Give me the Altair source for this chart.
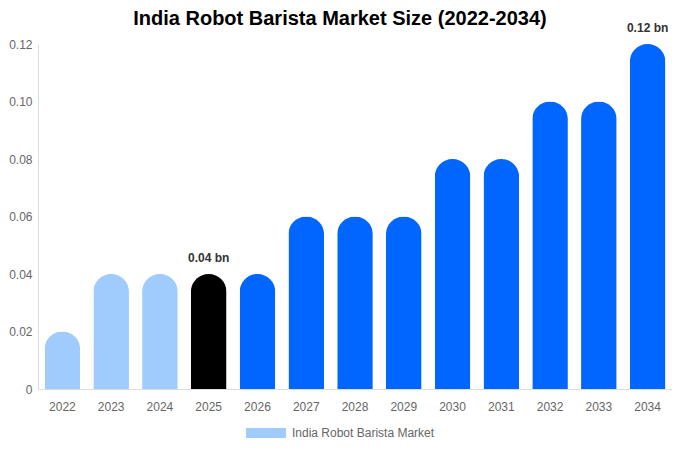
import altair as alt
import pandas as pd

years = [2022, 2023, 2024, 2025, 2026, 2027, 2028, 2029, 2030, 2031, 2032, 2033, 2034]
values = [0.02, 0.04, 0.04, 0.04, 0.04, 0.06, 0.06, 0.06, 0.08, 0.08, 0.10, 0.10, 0.12]
y_ticks = [0, 0.02, 0.04, 0.06, 0.08, 0.10, 0.12]
highlight_year = 2025
labeled_years = [2025, 2034]
series_name = "India Robot Barista Market"
title_text = "India Robot Barista Market Size (2022-2034)"

LIGHT = "#a0cbfd"
BLUE = "#0066ff"
DARK = "#000000"
FONT = "Liberation Sans"

df = pd.DataFrame({"year": years, "value": values})
df["series"] = series_name

x = alt.X("year:O", title=None,
          scale=alt.Scale(paddingInner=0.27, paddingOuter=0.135),
          axis=alt.Axis(labelAngle=0, ticks=False, domainColor="#dddddd",
                        labelColor="#666666", labelFontSize=12, labelPadding=12,
                        labelFont=FONT))
y = alt.Y("value:Q", title=None,
          scale=alt.Scale(domain=[0, 0.12], nice=False),
          axis=alt.Axis(values=y_ticks, ticks=False, grid=False, domainColor="#dddddd",
                        labelColor="#666666", labelFontSize=12, labelPadding=6,
                        labelFont=FONT,
                        labelExpr="datum.value == 0 ? '0' : format(datum.value, '.2f')"))

bars = alt.Chart(df).mark_bar(cornerRadiusTopLeft=18, cornerRadiusTopRight=18).encode(
    x=x, y=y,
    fill={"value": BLUE, "condition": [
        {"test": f"datum.year == {highlight_year}", "value": DARK},
        {"test": f"datum.year < {highlight_year}", "value": LIGHT},
    ]},
)

legend_layer = alt.Chart(df).transform_calculate(zero="0").mark_bar().encode(
    x=x,
    y=alt.Y("zero:Q"),
    color=alt.Color("series:N", title=None,
                    scale=alt.Scale(range=[LIGHT]),
                    legend=alt.Legend(orient="none", legendX=208, legendY=369,
                                      symbolType="M-1,-0.25L1,-0.25L1,0.25L-1,0.25Z",
                                      symbolSize=1600, symbolStrokeWidth=0,
                                      symbolOpacity=1,
                                      labelFontSize=12, labelColor="#666666",
                                      labelFont=FONT, labelOffset=6)),
)

labels = alt.Chart(df).transform_filter(
    alt.FieldOneOfPredicate(field="year", oneOf=labeled_years)
).transform_calculate(
    label="format(datum.value, '.2f') + ' bn'"
).mark_text(dy=-12, baseline="alphabetic", fontWeight="bold", fontSize=12,
            color="#333333", font=FONT).encode(
    x=x, y=y, text="label:N"
)

chart = alt.layer(legend_layer, bars, labels).properties(
    width=634, height=345,
    autosize=alt.AutoSizeParams(type="none"),
    padding={"left": 30, "top": 36, "right": 0, "bottom": 52},
    title=alt.TitleParams(title_text, fontSize=20, fontWeight="bold", color="#000000",
                          font=FONT, anchor="middle", dx=-15, dy=19, offset=12),
).configure_view(stroke=None)

chart.save("out.html", embed_options={"renderer": "svg", "actions": False})
